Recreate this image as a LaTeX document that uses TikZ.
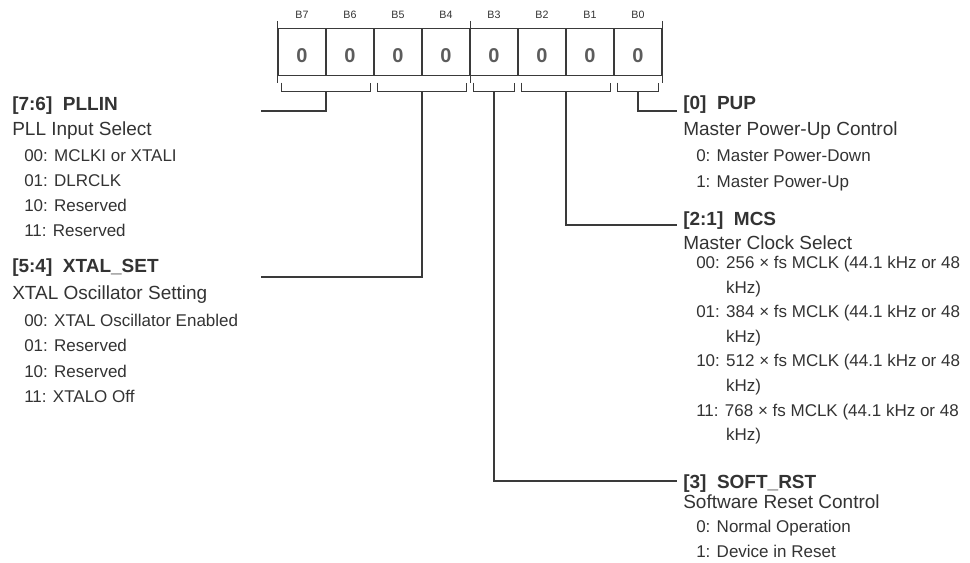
\documentclass[tikz,border=0pt]{standalone}
\usepackage{fontspec}
\setmainfont{Liberation Sans}
\usepackage{tikz}
\usetikzlibrary{calc,positioning}
\definecolor{linex}{HTML}{3A3A3A}
\definecolor{textx}{HTML}{333333}
\definecolor{digitx}{HTML}{5C5C5C}
\tikzset{
  cell/.style={draw=linex,line width=0.8pt,minimum width=36pt,minimum height=35pt,inner sep=0pt,
    text height=16.5pt,text depth=0pt,font=\fontsize{15}{18}\selectfont\bfseries,text=digitx},
  bitlbl/.style={anchor=base,inner sep=0pt,font=\fontsize{8}{10}\selectfont,text=textx},
  ln/.style={linex,line width=0.8pt},
  brk/.style={linex,line width=0.8pt},
  ttl/.style={anchor=base west,inner sep=0pt,font=\fontsize{14.25}{18}\selectfont\bfseries,text=textx},
  sub/.style={anchor=base west,inner sep=0pt,font=\fontsize{14.25}{18}\selectfont,text=textx},
  ent/.style={anchor=base west,inner sep=0pt,font=\fontsize{12.75}{16}\selectfont,text=textx}
}

\begin{document}
\begin{tikzpicture}[x=0.75pt,y=-0.75pt]
\useasboundingbox (0,0) rectangle (970,562);
% register cells B7..B0
\foreach \i in {0,...,7}{
  \node[cell] (c\i) at ({302+48*(7-\i)},51.7) {0};
  \node[bitlbl] (n\i) at ($(c\i.north)+(0,-9)$) {B\i};
}
\draw[ln] ($(c7.north west)+(0,-7)$) -- ($(c7.south west)+(0,7)$);
\draw[ln] ($(c4.north east)+(0,-7)$) -- ($(c4.south east)+(0,7)$);
\draw[ln] ($(c0.north east)+(0,-7)$) -- ($(c0.south east)+(0,7)$);
% field brackets
\draw[brk] ($(c7.south west)+(4,7)$) |- ($(c6.south east)+(-4,16)$) -- ++(0,-9);
\draw[brk] ($(c5.south west)+(4,7)$) |- ($(c4.south east)+(-4,16)$) -- ++(0,-9);
\draw[brk] ($(c3.south west)+(4,7)$) |- ($(c3.south east)+(-4,16)$) -- ++(0,-9);
\draw[brk] ($(c2.south west)+(4,7)$) |- ($(c1.south east)+(-4,16)$) -- ++(0,-9);
\draw[brk] ($(c0.south west)+(4,7)$) |- ($(c0.south east)+(-4,16)$) -- ++(0,-9);
\coordinate (s76) at ($(c7.south west)!0.5!(c6.south east)+(0,16)$);
\coordinate (s54) at ($(c5.south west)!0.5!(c4.south east)+(0,16)$);
\coordinate (s3) at ($(c3.south west)!0.5!(c3.south east)+(0,16)$);
\coordinate (s21) at ($(c2.south west)!0.5!(c1.south east)+(0,16)$);
\coordinate (s0) at ($(c0.south west)!0.5!(c0.south east)+(0,16)$);
% line ends
\coordinate (e76) at (261,111);
\coordinate (e54) at (261,277);
\coordinate (e0) at (677,111);
\coordinate (e21) at (677,225);
\coordinate (e3) at (677,481);
\draw[ln] (s76) |- (e76);
\draw[ln] (s54) |- (e54);
\draw[ln] (s0) |- (e0);
\draw[ln] (s21) |- (e21);
\draw[ln] (s3) |- (e3);
% [7:6] PLLIN
\node[ttl] (t76) at (12,110) {[7:6]~~PLLIN};
\node[sub] (d76) at (12,135) {PLL Input Select};
\foreach \t [count=\k from 0] in {00: MCLKI or XTALI,01: DLRCLK,10: Reserved,11: Reserved}
  \node[ent] (v76\k) at (24,{161+25*\k}) {\t};
% [5:4] XTAL_SET
\node[ttl] (t54) at (12,272) {[5:4]~~XTAL\_SET};
\node[sub] (d54) at (12,299) {XTAL Oscillator Setting};
\foreach \t [count=\k from 0] in {00: XTAL Oscillator Enabled,01: Reserved,10: Reserved,11: XTALO Off}
  \node[ent] (v54\k) at (24,{326+25.5*\k}) {\t};
% [0] PUP
\node[ttl] (t0) at (683,109.5) {[0]~~PUP};
\node[sub] (d0) at (683,135) {Master Power-Up Control};
\foreach \t [count=\k from 0] in {0: Master Power-Down,1: Master Power-Up}
  \node[ent] (v0\k) at (696,{161.5+25.5*\k}) {\t};
% [2:1] MCS
\node[ttl] (t21) at (683,225) {[2:1]~~MCS};
\node[sub] (d21) at (683,249.5) {Master Clock Select};
\foreach \c/\m [count=\k from 0] in {00/256,01/384,10/512,11/768}{
  \node[ent] (v21\k) at (696,{268.5+49.2*\k}) {\c: \m{} × fs MCLK (44.1 kHz or 48};
  \node[ent] (w21\k) at (696,{293+49.2*\k}) {\hphantom{00: }kHz)};
}
% [3] SOFT_RST
\node[ttl] (t3) at (683,488) {[3]~~SOFT\_RST};
\node[sub] (d3) at (683,508) {Software Reset Control};
\foreach \t [count=\k from 0] in {0: Normal Operation,1: Device in Reset}
  \node[ent] (v3\k) at (696,{532+25*\k}) {\t};
\end{tikzpicture}
\end{document}
